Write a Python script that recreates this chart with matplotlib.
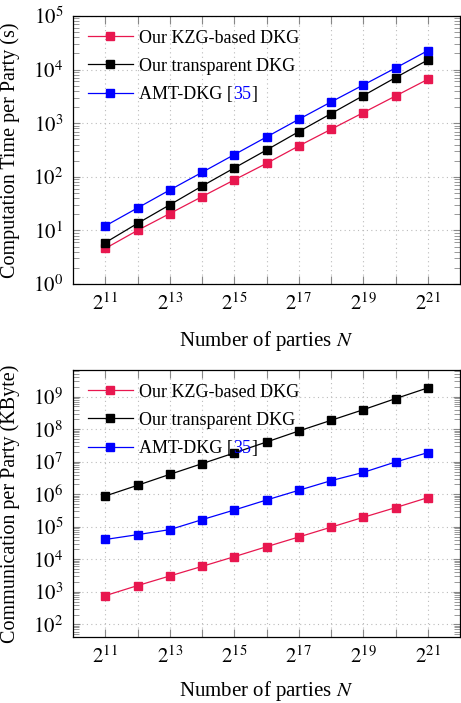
"""Computation time and communication per party vs number of parties (log-log)."""

import matplotlib

matplotlib.use("Agg")
import matplotlib.pyplot as plt  # noqa: E402
import numpy as np  # noqa: E402
from matplotlib.ticker import FixedLocator, FuncFormatter, LogLocator, NullFormatter  # noqa: E402

plt.rcParams["font.family"] = ["Liberation Serif", "DejaVu Serif"]
plt.rcParams["mathtext.fontset"] = "stix"

exponents = [11, 12, 13, 14, 15, 16, 17, 18, 19, 20, 21]
labels = ["Our KZG-based DKG", "Our transparent DKG", "AMT-DKG [35]"]
colors = ["#E8174F", "black", "blue"]

# computation time per party (s)
time_kzg = [4.6, 10, 20.6, 42.6, 87.5, 178, 376, 769, 1573, 3215, 6580]
time_transparent = [5.9, 13.5, 30, 67, 146, 316, 695, 1507, 3266, 7080, 15100]
time_amt = [12.1, 26.2, 56.7, 121, 259, 553, 1181, 2489, 5160, 10700, 22550]

# communication per party (KByte)
comm_kzg = [760, 1550, 3060, 6040, 12000, 24300, 48400, 97000, 195000, 387000, 785000]
comm_transparent = [8.8e5, 1.88e6, 4.08e6, 8.7e6, 1.86e7, 4.03e7, 8.8e7, 1.87e8, 3.97e8, 8.7e8, 1.86e9]
comm_amt = [40600, 57100, 81600, 165000, 327000, 665000, 1.32e6, 2.61e6, 4.69e6, 9.8e6, 1.9e7]

N = [2.0 ** e for e in exponents]


def style_axes(ax, ylim, ylabel, xpad):
    ax.set_xscale("log", base=2)
    ax.set_yscale("log")
    ax.set_xlim(2.0 ** 10, 2.0 ** 22)
    ax.set_ylim(*ylim)
    ax.xaxis.set_major_locator(FixedLocator(N))
    ax.xaxis.set_major_formatter(
        FuncFormatter(lambda v, p: f"$2^{{{int(round(np.log2(v)))}}}$" if round(np.log2(v)) % 2 else "")
    )
    ax.xaxis.set_minor_locator(FixedLocator([]))
    ax.yaxis.set_major_locator(LogLocator(base=10, numticks=20))
    ax.yaxis.set_minor_locator(LogLocator(base=10, subs=np.arange(2, 10), numticks=20))
    ax.yaxis.set_minor_formatter(NullFormatter())
    ax.yaxis.set_major_formatter(FuncFormatter(lambda v, p: f"$10^{{{int(round(np.log10(v)))}}}$"))
    ax.tick_params(which="both", direction="in", top=True, right=True, colors="#888888",
                   labelcolor="black", labelsize=15)
    ax.tick_params(axis="x", which="major", length=6, pad=7)
    ax.tick_params(axis="y", which="major", length=5, pad=7)
    ax.tick_params(axis="y", which="minor", length=4)
    ax.grid(True, which="major", color="#bbbbbb", ls=(0, (1, 3)), lw=0.8)
    for s in ax.spines.values():
        s.set_linewidth(0.9)
    ax.set_xlabel("Number of parties $N$", fontsize=15, labelpad=xpad)
    ax.set_ylabel(ylabel, fontsize=14.5)


def add_legend(ax):
    leg = ax.legend(loc="upper left", frameon=False, fontsize=13, handlelength=2.5,
                    handletextpad=0.35, labelspacing=0.62, borderaxespad=0.2,
                    bbox_to_anchor=(0.01, 0.99))
    return leg


fig = plt.figure(figsize=(4.61, 7.03), dpi=100)
ax1 = fig.add_axes([73 / 461, 1 - 284 / 703, 387 / 461, 268 / 703])
ax2 = fig.add_axes([73 / 461, 1 - 637 / 703, 387 / 461, 267 / 703])

panels = [
    (ax1, [time_kzg, time_transparent, time_amt], (1, 1e5), "Computation Time per Party (s)", 10),
    (ax2, [comm_kzg, comm_transparent, comm_amt], (10 ** 1.61, 10 ** 9.82),
     "Communication per Party (KByte)", 7.5),
]

legends = []
for ax, series, ylim, ylabel, xpad in panels:
    for vals, lab, col in zip(series, labels, colors):
        ax.plot(N, vals, color=col, lw=0.9, marker="s", ms=6, mec=col, mfc=col, label=lab)
    style_axes(ax, ylim, ylabel, xpad)
    legends.append(add_legend(ax))
    ax.yaxis.set_label_coords(-0.137, 0.5)

# colour the citation number "35" blue inside the legend label
fig.canvas.draw()
renderer = fig.canvas.get_renderer()
for leg in legends:
    t = leg.get_texts()[2]
    t.set_text("AMT-DKG [")
    fig.canvas.draw()
    bb = t.get_window_extent(renderer)
    x0, y0 = t.get_transform().transform(t.get_position())
    t35 = fig.text(bb.x1 / fig.bbox.width, y0 / fig.bbox.height, "35", color="blue",
                   fontsize=13, va="baseline", ha="left")
    fig.canvas.draw()
    bb2 = t35.get_window_extent(renderer)
    fig.text(bb2.x1 / fig.bbox.width, y0 / fig.bbox.height, "]", color="black",
             fontsize=13, va="baseline", ha="left")

fig.savefig("out.png", dpi=100)
plt.close(fig)
